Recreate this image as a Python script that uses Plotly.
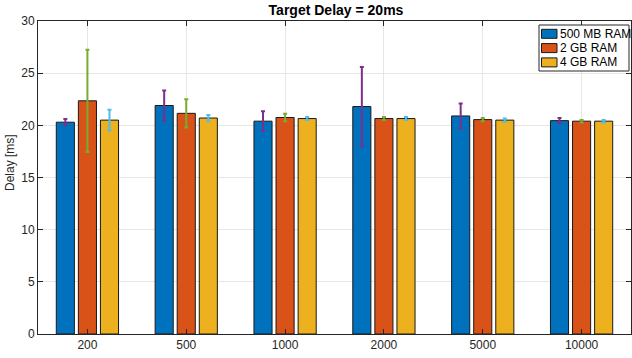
import plotly.graph_objects as go

categories = ["200", "500", "1000", "2000", "5000", "10000"]
series_names = ["500 MB RAM", "2 GB RAM", "4 GB RAM"]
mb500_mean = [20.3, 21.9, 20.4, 21.8, 20.9, 20.45]
mb500_err = [0.3, 1.45, 0.95, 3.8, 1.2, 0.25]
gb2_mean = [22.35, 21.15, 20.75, 20.65, 20.55, 20.4]
gb2_err = [4.9, 1.35, 0.35, 0.15, 0.15, 0.12]
gb4_mean = [20.5, 20.7, 20.65, 20.65, 20.5, 20.4]
gb4_err = [1.0, 0.3, 0.15, 0.15, 0.15, 0.12]

bar_colors = ["#0072BD", "#D95319", "#EDB120"]
err_colors = ["#7E2F8E", "#77AC30", "#4DBEEE"]

W, H = 632, 358
ML, MR, MT, MB = 38, 1, 21, 24
PW, PH = W - ML - MR, H - MT - MB


def px(xpix):
    return (xpix - ML) / PW


def py(ypix):
    return (H - MB - ypix) / PH


fig = go.Figure()
for name, vals, errs, bc, ec in zip(series_names,
                                    [mb500_mean, gb2_mean, gb4_mean],
                                    [mb500_err, gb2_err, gb4_err],
                                    bar_colors, err_colors):
    fig.add_trace(go.Bar(
        x=categories, y=vals, name=name,
        marker=dict(color=bc, line=dict(color="#1a1a1a", width=1)),
        error_y=dict(type="data", array=errs, visible=True,
                     color=ec, thickness=2, width=2),
    ))

# legend (drawn as a box with patches, MATLAB style)
shapes = [dict(type="rect", xref="paper", yref="paper",
               x0=px(539), x1=px(629), y0=py(71), y1=py(25),
               line=dict(color="#262626", width=1), fillcolor="white", layer="above")]
annotations = []
for i, (name, bc) in enumerate(zip(series_names, bar_colors)):
    yc = 33.8 + i * 14.3
    shapes.append(dict(type="rect", xref="paper", yref="paper",
                       x0=px(541.5), x1=px(557), y0=py(yc + 4.5), y1=py(yc - 4.5),
                       line=dict(color="#1a1a1a", width=1), fillcolor=bc, layer="above"))
    annotations.append(dict(xref="paper", yref="paper", x=px(558), y=py(yc),
                            text=name, showarrow=False, xanchor="left", yanchor="middle",
                            font=dict(size=12, color="#000000")))

# y-axis label
annotations.append(dict(xref="paper", yref="paper", x=px(10), y=py(163),
                        text="Delay [ms]", textangle=-90, showarrow=False,
                        xanchor="center", yanchor="middle",
                        font=dict(size=12, color="#262626")))

font_family = "Liberation Sans, Arial, sans-serif"
fig.update_layout(
    width=W, height=H,
    margin=dict(l=ML, r=MR, t=MT, b=MB),
    paper_bgcolor="white", plot_bgcolor="white",
    barmode="group", bargap=0.33, bargroupgap=0.18,
    font=dict(family=font_family, size=12, color="#262626"),
    title=dict(text="<b>Target Delay = 20ms</b>", x=px(336), xanchor="center",
               xref="paper", y=1 - 10 / H, yanchor="middle",
               font=dict(size=14, color="#000000")),
    showlegend=False,
    shapes=shapes,
    annotations=annotations,
    xaxis=dict(type="category", showgrid=True, gridcolor="#e6e6e6",
               showline=True, linecolor="#262626", linewidth=1, mirror="allticks",
               ticks="inside", ticklen=5, tickcolor="#262626",
               range=[-0.5, 5.5], tickfont=dict(size=12)),
    yaxis=dict(range=[0, 30], dtick=5, showgrid=True, gridcolor="#e6e6e6",
               showline=True, linecolor="#262626", linewidth=1, mirror="allticks",
               ticks="inside", ticklen=5, tickcolor="#262626", zeroline=False,
               tickfont=dict(size=12)),
)

fig.write_html("out.html", config={"displayModeBar": False},
               post_script="document.body.style.margin='0';document.body.style.padding='0';")
